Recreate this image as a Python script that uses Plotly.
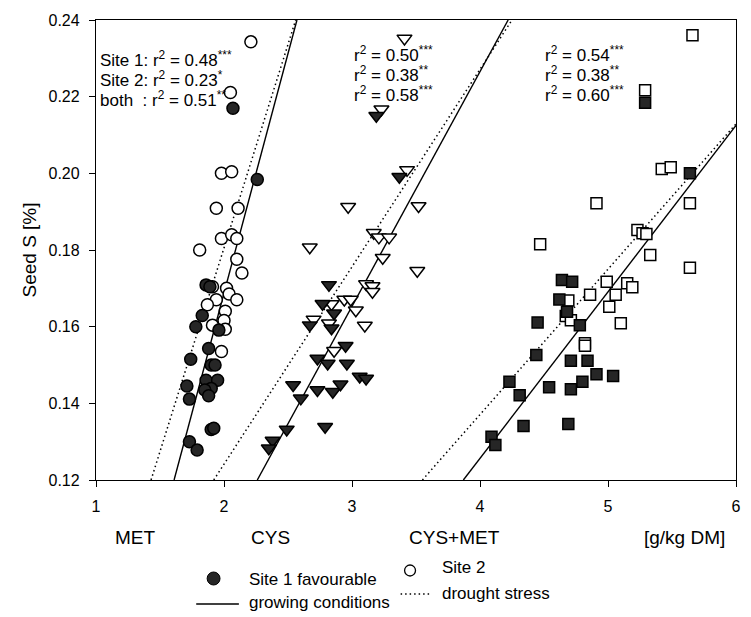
import plotly.graph_objects as go

# ---------------- data ----------------
met_s1_x = [2.07, 2.26, 1.86, 1.89, 1.83, 1.78, 1.96, 1.88, 1.74, 1.90, 1.93, 1.86, 1.95, 1.90, 1.85, 1.88, 1.71, 1.73, 1.90, 1.92, 1.73, 1.79]
met_s1_y = [0.217, 0.1984, 0.1709, 0.1704, 0.1629, 0.160, 0.1591, 0.1543, 0.1515, 0.150, 0.150, 0.146, 0.146, 0.1439, 0.1435, 0.142, 0.1445, 0.1411, 0.1332, 0.1335, 0.130, 0.1278]
met_s2_x = [2.21, 2.05, 1.98, 2.06, 1.94, 2.11, 1.98, 2.06, 2.10, 1.81, 2.10, 2.14, 1.91, 2.02, 1.94, 2.04, 2.10, 1.87, 2.01, 2.00, 1.91, 2.01, 1.98]
met_s2_y = [0.2343, 0.2211, 0.200, 0.2004, 0.1909, 0.1909, 0.183, 0.184, 0.183, 0.180, 0.1776, 0.174, 0.1704, 0.170, 0.167, 0.1685, 0.167, 0.1657, 0.164, 0.1616, 0.1604, 0.1593, 0.1535]

cys_s1_x = [3.19, 3.37, 2.82, 2.77, 2.86, 2.67, 2.84, 2.95, 2.73, 2.81, 2.96, 3.06, 3.11, 2.54, 2.73, 2.85, 2.91, 2.60, 2.79, 2.49, 2.38, 2.35]
cys_s1_y = [0.215, 0.1991, 0.1709, 0.166, 0.1635, 0.1604, 0.1596, 0.155, 0.1517, 0.1504, 0.1504, 0.147, 0.1465, 0.1448, 0.1435, 0.143, 0.145, 0.1413, 0.1339, 0.1332, 0.1303, 0.1283]
cys_s2_x = [3.41, 3.23, 3.43, 2.97, 3.52, 3.17, 3.21, 3.29, 2.67, 3.24, 3.51, 3.11, 3.16, 3.16, 2.94, 2.99, 2.84, 3.03, 2.70, 2.82, 3.10, 2.86]
cys_s2_y = [0.2352, 0.2167, 0.2009, 0.1913, 0.1915, 0.1845, 0.1833, 0.1833, 0.1807, 0.178, 0.1746, 0.1711, 0.1706, 0.1691, 0.1671, 0.1671, 0.1659, 0.1643, 0.1619, 0.1609, 0.1603, 0.1537]

cm_s1_x = [5.29, 5.64, 4.64, 4.72, 4.62, 4.68, 4.45, 4.78, 4.44, 4.71, 4.84, 4.91, 5.04, 4.23, 4.80, 4.54, 4.71, 4.31, 4.34, 4.69, 4.09, 4.12]
cm_s1_y = [0.2184, 0.200, 0.1722, 0.1717, 0.1671, 0.1639, 0.1611, 0.1604, 0.1526, 0.1511, 0.1511, 0.1476, 0.1471, 0.1456, 0.1456, 0.1442, 0.1437, 0.1421, 0.1341, 0.1346, 0.1313, 0.1291]
cm_s2_x = [5.66, 5.29, 5.42, 5.49, 4.91, 5.64, 5.23, 5.27, 5.30, 4.47, 5.33, 5.64, 4.99, 5.15, 5.19, 4.86, 5.06, 4.69, 5.01, 4.67, 4.71, 5.10, 4.82, 4.82]
cm_s2_y = [0.236, 0.2217, 0.2011, 0.2016, 0.1922, 0.1922, 0.1852, 0.1844, 0.1842, 0.1815, 0.1787, 0.1754, 0.1717, 0.1713, 0.1703, 0.1683, 0.1683, 0.1668, 0.1652, 0.1628, 0.1617, 0.1609, 0.1557, 0.155]

# regression lines (end points)
met_fav_x = [1.61, 2.57]
met_fav_y = [0.12, 0.24]
met_dry_x = [1.43, 2.56]
met_dry_y = [0.12, 0.24]
cys_fav_x = [2.26, 4.22]
cys_fav_y = [0.12, 0.24]
cys_dry_x = [1.92, 4.25]
cys_dry_y = [0.12, 0.24]
cm_fav_x = [3.87, 6.0]
cm_fav_y = [0.12, 0.2125]
cm_dry_x = [3.55, 6.0]
cm_dry_y = [0.12, 0.2129]

r2_labels_left = ["Site 1: r<sup>2</sup> = 0.48<sup>***</sup>",
                  "Site 2: r<sup>2</sup> = 0.23<sup>*</sup>",
                  "both  : r<sup>2</sup> = 0.51<sup>**</sup>"]
r2_labels_mid = ["r<sup>2</sup> = 0.50<sup>***</sup>",
                 "r<sup>2</sup> = 0.38<sup>**</sup>",
                 "r<sup>2</sup> = 0.58<sup>***</sup>"]
r2_labels_right = ["r<sup>2</sup> = 0.54<sup>***</sup>",
                   "r<sup>2</sup> = 0.38<sup>**</sup>",
                   "r<sup>2</sup> = 0.60<sup>***</sup>"]

x_ticks = [1, 2, 3, 4, 5, 6]
y_ticks = [0.12, 0.14, 0.16, 0.18, 0.20, 0.22, 0.24]
group_labels = ["MET", "CYS", "CYS+MET", "[g/kg DM]"]

# ---------------- figure ----------------
FONT = "Liberation Sans, Arial, sans-serif"
FILL = "#262626"
DOTS = "1.5px,3px"
W, H = 751, 617
L, R, T, B = 96, 10, 20, 137
PW, PH = W - L - R, H - T - B

def px(xp):
    return (xp - L) / PW

def py(yp):
    return (H - B - yp) / PH

fig = go.Figure()

for xs, ys in [(met_fav_x, met_fav_y), (cys_fav_x, cys_fav_y), (cm_fav_x, cm_fav_y)]:
    fig.add_trace(go.Scatter(x=xs, y=ys, mode="lines",
                             line=dict(color="black", width=1.4), showlegend=False))
for xs, ys in [(met_dry_x, met_dry_y), (cys_dry_x, cys_dry_y), (cm_dry_x, cm_dry_y)]:
    fig.add_trace(go.Scatter(x=xs, y=ys, mode="lines",
                             line=dict(color="black", width=1.5, dash=DOTS), showlegend=False))

def pts(xs, ys, symbol, size, filled):
    fig.add_trace(go.Scatter(
        x=xs, y=ys, mode="markers", showlegend=False, cliponaxis=False,
        marker=dict(symbol=symbol, size=size,
                    color=FILL if filled else "white",
                    line=dict(color="black", width=1.5))))

pts(met_s2_x, met_s2_y, "circle", 12, False)
pts(met_s1_x, met_s1_y, "circle", 12, True)
pts(cys_s2_x, cys_s2_y, "triangle-down", 13, False)
pts(cys_s1_x, cys_s1_y, "triangle-down", 13, True)
pts(cm_s2_x, cm_s2_y, "square", 11, False)
pts(cm_s1_x, cm_s1_y, "square", 11, True)

ann = []
def txt(x, y, s, size=15, xanchor="left"):
    ann.append(dict(x=x, y=y, xref="paper", yref="paper", text=s, showarrow=False,
                    xanchor=xanchor, yanchor="middle",
                    font=dict(family=FONT, size=size, color="black")))

for i, s in enumerate(r2_labels_left):
    txt(px(98), py([59, 79, 99][i]), s, 17)
for i, s in enumerate(r2_labels_mid):
    txt(px(354), py([54, 74, 94][i]), s, 17)
for i, s in enumerate(r2_labels_right):
    txt(px(546), py([54, 74, 94][i]), s, 17)

# group labels below the axis
txt(px(113), py(537), group_labels[0], 19)
txt(px(250), py(537), group_labels[1], 19)
txt(px(409), py(537), group_labels[2], 19)
txt(px(646), py(537), group_labels[3], 19)

# legend (drawn manually)
txt(px(248), py(579), "Site 1 favourable", 17)
txt(px(248), py(602), "growing conditions", 17)
txt(px(443), py(567), "Site 2", 17)
txt(px(443), py(593), "drought stress", 17)

shapes = [
    dict(type="circle", xref="paper", yref="paper",
         x0=px(208), x1=px(221), y0=py(585), y1=py(572),
         fillcolor=FILL, line=dict(color="black", width=1)),
    dict(type="circle", xref="paper", yref="paper",
         x0=px(407), x1=px(418), y0=py(576), y1=py(565),
         fillcolor="white", line=dict(color="black", width=1.3)),
    dict(type="line", xref="paper", yref="paper",
         x0=px(197), x1=px(240), y0=py(604), y1=py(604),
         line=dict(color="black", width=1.3)),
    dict(type="line", xref="paper", yref="paper",
         x0=px(403), x1=px(433), y0=py(594), y1=py(594),
         line=dict(color="black", width=1.4, dash=DOTS)),
]

axis_common = dict(showline=True, linecolor="black", linewidth=1.3, mirror=True,
                   ticks="outside", ticklen=6, tickwidth=1.2, tickcolor="black",
                   showgrid=False, zeroline=False,
                   tickfont=dict(family=FONT, size=16, color="black"))

fig.update_layout(
    width=W, height=H,
    margin=dict(l=L, r=R, t=T, b=B, pad=0),
    paper_bgcolor="white", plot_bgcolor="white",
    xaxis=dict(range=[1, 6], tickvals=x_ticks, ticktext=[str(v) for v in x_ticks],
               ticklabelstandoff=6, **axis_common),
    yaxis=dict(range=[0.12, 0.24], tickvals=y_ticks, ticktext=[f"{v:.2f}" for v in y_ticks],
               ticklabelstandoff=6,
               title=dict(text="Seed S [%]", font=dict(family=FONT, size=19, color="black"), standoff=6),
               **axis_common),
    annotations=ann, shapes=shapes,
)

fig.write_html("out.html", config={"displayModeBar": False},
               post_script="document.body.style.margin='0px';document.body.style.overflow='hidden';")
